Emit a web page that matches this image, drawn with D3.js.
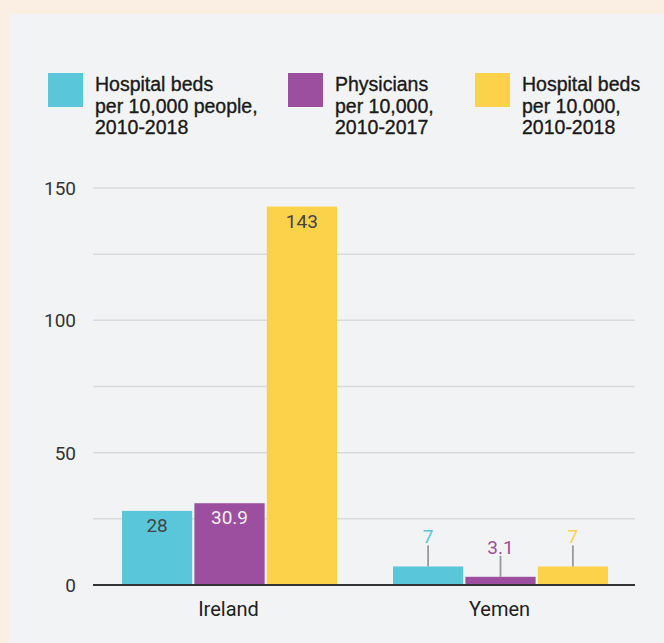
<!DOCTYPE html>
<html>
<head>
<meta charset="utf-8">
<script src="https://cdn.jsdelivr.net/npm/d3@7"></script>
<style>
  html, body { margin: 0; padding: 0; background: #fbeee3; }
  svg { display: block; }
</style>
</head>
<body>
<svg id="chart" width="664" height="643"></svg>
<script>
const categories = ["Ireland", "Yemen"];
const seriesNames = [
  ["Hospital beds", "per 10,000 people,", "2010-2018"],
  ["Physicians", "per 10,000,", "2010-2017"],
  ["Hospital beds", "per 10,000,", "2010-2018"]
];
const seriesKeys = ["bedsA", "physicians", "bedsB"];
const bedsA = [28, 7];
const physicians = [30.9, 3.1];
const bedsB = [143, 7];
const seriesValues = [bedsA, physicians, bedsB];
const valueLabels = [["28", "7"], ["30.9", "3.1"], ["143", "7"]];
const yTicks = [0, 50, 100, 150];
const gridTicks = [0, 25, 50, 75, 100, 125, 150];

const colors = ["#59c7d9", "#9b4f9e", "#fdd24b"];
const insideLabelColors = ["#444444", "#f2f2f2", "#444444"];

const svg = d3.select("#chart");

// panel
svg.append("rect").attr("x", 10).attr("y", 14).attr("width", 654).attr("height", 629).attr("fill", "#f2f3f4");

const plotL = 93, plotR = 635, plotT = 188, plotB = 585;

const y = d3.scaleLinear().domain([0, 150]).range([plotB, plotT]);
const x0 = d3.scaleBand().domain(categories).range([plotL, plotR]).padding(0);
const x1 = d3.scaleBand().domain(seriesKeys).range([29, x0.bandwidth() - 27]).paddingInner(0.03);

// gridlines
svg.append("g").selectAll("line").data(gridTicks.filter(d => d !== 0)).join("line")
  .attr("x1", plotL).attr("x2", plotR)
  .attr("y1", d => y(d)).attr("y2", d => y(d))
  .attr("stroke", "#dadada").attr("stroke-width", 1.5);

// y axis labels
const yAxis = d3.axisLeft(y).tickValues(yTicks).tickSize(0).tickPadding(0);
const yg = svg.append("g").attr("transform", `translate(${plotL - 17},0)`).call(yAxis);
yg.select(".domain").remove();
yg.selectAll("text").attr("font-family", "Roboto, sans-serif").attr("font-size", 19)
  .attr("fill", "#333").attr("dy", "0.35em");

// bars
const data = [];
categories.forEach((c, ci) => {
  seriesKeys.forEach((k, si) => {
    data.push({cat: c, ci, key: k, si, value: seriesValues[si][ci], label: valueLabels[si][ci]});
  });
});

const bars = svg.append("g");
bars.selectAll("rect").data(data).join("rect")
  .attr("x", d => x0(d.cat) + x1(d.key))
  .attr("y", d => y(d.value))
  .attr("width", x1.bandwidth())
  .attr("height", d => y(0) - y(d.value))
  .attr("fill", d => colors[d.si]);

// labels
const labels = svg.append("g").attr("font-family", "Roboto, sans-serif").attr("font-size", 19).attr("text-anchor", "middle");
data.forEach(d => {
  const cx = x0(d.cat) + x1(d.key) + x1.bandwidth() / 2;
  const barH = y(0) - y(d.value);
  if (barH > 30) {
    labels.append("text").attr("x", cx).attr("y", y(d.value) + 21)
      .attr("fill", insideLabelColors[d.si]).text(d.label);
  } else {
    const top = y(d.value);
    labels.append("line").attr("x1", cx).attr("x2", cx).attr("y1", top - 21).attr("y2", top)
      .attr("stroke", "#999").attr("stroke-width", 1.8);
    labels.append("text").attr("x", cx).attr("y", top - 23)
      .attr("fill", colors[d.si]).text(d.label);
  }
});

// baseline
svg.append("line").attr("x1", plotL).attr("x2", plotR).attr("y1", y(0)).attr("y2", y(0))
  .attr("stroke", "#333").attr("stroke-width", 2);

// x axis labels
const xAxis = d3.axisBottom(x0).tickSize(0).tickPadding(0);
const xg = svg.append("g").attr("transform", `translate(0,${plotB + 31})`).call(xAxis);
xg.select(".domain").remove();
xg.selectAll("text").attr("font-family", "Roboto, sans-serif").attr("font-size", 20)
  .attr("fill", "#222").attr("dy", 0);

// legend
const legendX = [48, 288, 475];
const legend = svg.append("g");
seriesNames.forEach((lines, i) => {
  const g = legend.append("g").attr("transform", `translate(${legendX[i]},73)`);
  g.append("rect").attr("width", 35).attr("height", 34).attr("fill", colors[i]);
  const t = g.append("text").attr("x", 47).attr("y", 18)
    .attr("font-family", "'Liberation Sans', Arial, sans-serif").attr("font-size", 19.5)
    .attr("fill", "#1a1a1a").attr("stroke", "#1a1a1a").attr("stroke-width", 0.35);
  lines.forEach((ln, li) => {
    t.append("tspan").attr("x", 47).attr("y", 18 + li * 21.5).text(ln);
  });
});
</script>
</body>
</html>
